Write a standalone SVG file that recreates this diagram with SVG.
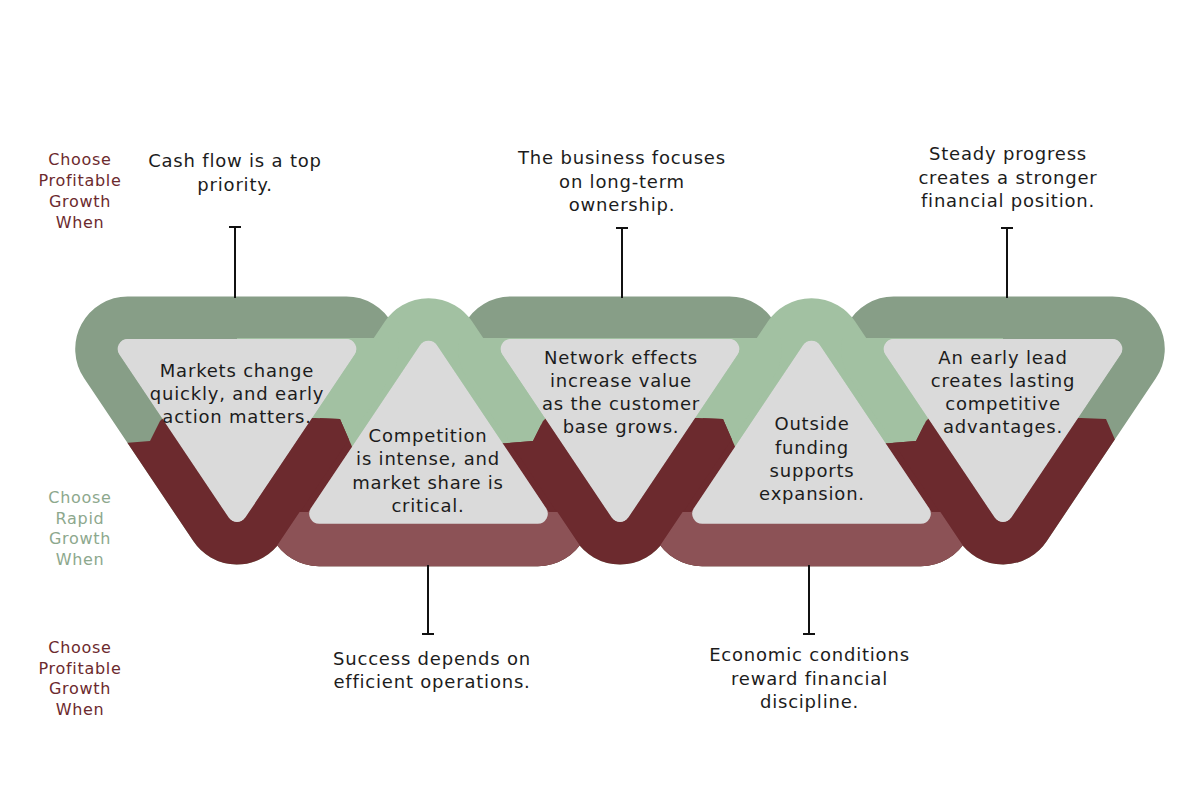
<svg xmlns="http://www.w3.org/2000/svg" width="1200" height="800" viewBox="0 0 1200 800">
<style>
.t{font-family:"DejaVu Sans","Liberation Sans",sans-serif;font-size:18px;fill:#1c1c1c;text-anchor:middle;letter-spacing:0.8px}
.lab{font-family:"DejaVu Sans","Liberation Sans",sans-serif;font-size:16px;text-anchor:middle;letter-spacing:0.7px}
.lr{fill:#6c2a2e}
.lgn{fill:#8da88d}
.conn{stroke:#111;stroke-width:2;fill:none}
</style>
<defs>
<path id="dRing" d="M-109.2 318 L109.2 318 A31 31 0 0 1 135 366.3 L25.8 529.2 A31 31 0 0 1 -25.8 529.2 L-135 366.3 A31 31 0 0 1 -109.2 318 Z" fill="none" stroke-width="43" stroke-linejoin="round"/>
<path id="uRing" d="M25.8 333.5 L135 496.4 A31 31 0 0 1 109.2 544.7 L-109.2 544.7 A31 31 0 0 1 -135 496.4 L-25.8 333.5 A31 31 0 0 1 25.8 333.5 Z" fill="none" stroke-width="43" stroke-linejoin="round"/>
<path id="dGrey" d="M-109.3 339 L109.3 339 A10 10 0 0 1 117.6 354.5 L8.3 517.6 A10 10 0 0 1 -8.3 517.6 L-117.6 354.5 A10 10 0 0 1 -109.3 339 Z" fill="#dadada"/>
<path id="uGrey" d="M8.3 345.1 L117.6 508.2 A10 10 0 0 1 109.3 523.7 L-109.3 523.7 A10 10 0 0 1 -117.6 508.2 L-8.3 345.1 A10 10 0 0 1 8.3 345.1 Z" fill="#dadada"/>
<clipPath id="cDG1"><rect x="0" y="0" width="237" height="800"/><rect x="0" y="0" width="1200" height="339"/></clipPath>
<clipPath id="cDG3"><rect x="0" y="0" width="1200" height="339"/></clipPath>
<clipPath id="cDG5"><rect x="1003" y="0" width="197" height="800"/><rect x="0" y="0" width="1200" height="339"/></clipPath>
<clipPath id="cLG1"><rect x="237" y="338" width="963" height="462"/></clipPath>
<clipPath id="cLG3"><rect x="0" y="338" width="1200" height="462"/></clipPath>
<clipPath id="cLG5"><rect x="0" y="338" width="1003" height="462"/></clipPath>
<clipPath id="cut1"><polygon points="37,446 125,443 150,441 160,421 163,418 315,418 340,419 350,442 357,458 437,458 437,620 37,620"/></clipPath>
<clipPath id="cut3"><polygon points="420,446 508,443 533,441 543,421 546,418 698,418 723,419 733,442 740,458 820,458 820,620 420,620"/></clipPath>
<clipPath id="cut5"><polygon points="803,446 891,443 916,441 926,421 929,418 1081,418 1106,419 1116,442 1123,458 1203,458 1203,620 803,620"/></clipPath>
<clipPath id="cut12"><polygon points="37,446 125,443 150,441 160,421 163,418 315,418 340,419 350,442 357,458 437,458 437,620 37,620"/><polygon points="420,446 508,443 533,441 543,421 546,418 698,418 723,419 733,442 740,458 820,458 820,620 420,620"/></clipPath>
<clipPath id="cut34"><polygon points="420,446 508,443 533,441 543,421 546,418 698,418 723,419 733,442 740,458 820,458 820,620 420,620"/><polygon points="803,446 891,443 916,441 926,421 929,418 1081,418 1106,419 1116,442 1123,458 1203,458 1203,620 803,620"/></clipPath>
<clipPath id="mut2"><polygon points="349.9,450 507.1,450 548.6,512 557.4,512 629.8,620 227.2,620 299.6,512 308.4,512"/></clipPath>
<clipPath id="mut4"><polygon points="732.9,450 890.1,450 931.6,512 940.4,512 1012.8,620 610.2,620 682.6,512 691.4,512"/></clipPath>
<marker id="cap" viewBox="0 0 4 12" refX="2" refY="6" markerWidth="4" markerHeight="12" markerUnits="userSpaceOnUse" orient="auto"><path d="M2 0V12" stroke="#111" stroke-width="2"/></marker>
</defs>
<rect width="1200" height="800" fill="#ffffff"/>
<g id="bands">
<g id="band-darkgreen" stroke="#879e87">
<g clip-path="url(#cDG1)"><use href="#dRing" transform="translate(237 0)"/></g>
<g clip-path="url(#cDG3)"><use href="#dRing" transform="translate(620 0)"/></g>
<g clip-path="url(#cDG5)"><use href="#dRing" transform="translate(1003 0)"/></g>
</g>
<g id="band-lightgreen" stroke="#a2c1a2">
<use href="#uRing" transform="translate(428.5 0)"/>
<use href="#uRing" transform="translate(811.5 0)"/>
<g clip-path="url(#cLG1)"><use href="#dRing" transform="translate(237 0)"/></g>
<g clip-path="url(#cLG3)"><use href="#dRing" transform="translate(620 0)"/></g>
<g clip-path="url(#cLG5)"><use href="#dRing" transform="translate(1003 0)"/></g>
</g>
<g id="band-darkred" stroke="#6c2a2e">
<g clip-path="url(#cut12)"><use href="#uRing" transform="translate(428.5 0)"/></g>
<g clip-path="url(#cut34)"><use href="#uRing" transform="translate(811.5 0)"/></g>
<g clip-path="url(#cut1)"><use href="#dRing" transform="translate(237 0)"/></g>
<g clip-path="url(#cut3)"><use href="#dRing" transform="translate(620 0)"/></g>
<g clip-path="url(#cut5)"><use href="#dRing" transform="translate(1003 0)"/></g>
</g>
<g id="band-mutedred" stroke="#8c5256">
<g clip-path="url(#mut2)"><use href="#uRing" transform="translate(428.5 0)"/></g>
<g clip-path="url(#mut4)"><use href="#uRing" transform="translate(811.5 0)"/></g>
</g>
</g>
<g id="node-1">
<use href="#dGrey" transform="translate(237 0)"/>
<text class="t" x="237" y="376.5">Markets change</text>
<text class="t" x="237" y="399.5">quickly, and early</text>
<text class="t" x="237" y="422.5">action matters.</text>
</g>
<g id="node-2">
<use href="#uGrey" transform="translate(428.5 0)"/>
<text class="t" x="428" y="441.5">Competition</text>
<text class="t" x="428" y="465">is intense, and</text>
<text class="t" x="428" y="488.5">market share is</text>
<text class="t" x="428" y="511.5">critical.</text>
</g>
<g id="node-3">
<use href="#dGrey" transform="translate(620 0)"/>
<text class="t" x="621" y="363.5">Network effects</text>
<text class="t" x="621" y="386.5">increase value</text>
<text class="t" x="621" y="410">as the customer</text>
<text class="t" x="621" y="433">base grows.</text>
</g>
<g id="node-4">
<use href="#uGrey" transform="translate(811.5 0)"/>
<text class="t" x="812" y="430">Outside</text>
<text class="t" x="812" y="453.5">funding</text>
<text class="t" x="812" y="476.5">supports</text>
<text class="t" x="812" y="500">expansion.</text>
</g>
<g id="node-5">
<use href="#dGrey" transform="translate(1003 0)"/>
<text class="t" x="1003" y="363.5">An early lead</text>
<text class="t" x="1003" y="386.5">creates lasting</text>
<text class="t" x="1003" y="410">competitive</text>
<text class="t" x="1003" y="433">advantages.</text>
</g>
<g id="label-top-1">
<text class="t" x="235" y="167">Cash flow is a top</text>
<text class="t" x="235" y="190.5">priority.</text>
</g>
<g id="label-top-3">
<text class="t" x="622" y="164">The business focuses</text>
<text class="t" x="622" y="187.5">on long-term</text>
<text class="t" x="622" y="211">ownership.</text>
</g>
<g id="label-top-5">
<text class="t" x="1008" y="160">Steady progress</text>
<text class="t" x="1008" y="183.5">creates a stronger</text>
<text class="t" x="1008" y="207">financial position.</text>
</g>
<g id="label-bottom-2">
<text class="t" x="432" y="664.5">Success depends on</text>
<text class="t" x="432" y="688">efficient operations.</text>
</g>
<g id="label-bottom-4">
<text class="t" x="809.5" y="661">Economic conditions</text>
<text class="t" x="809.5" y="684.5">reward financial</text>
<text class="t" x="809.5" y="708">discipline.</text>
</g>
<g id="row-label-1" class="lab lr">
<text x="80" y="165">Choose</text>
<text x="80" y="186">Profitable</text>
<text x="80" y="207">Growth</text>
<text x="80" y="228">When</text>
</g>
<g id="row-label-2" class="lab lgn">
<text x="80" y="502.5">Choose</text>
<text x="80" y="523.5">Rapid</text>
<text x="80" y="544">Growth</text>
<text x="80" y="565">When</text>
</g>
<g id="row-label-3" class="lab lr">
<text x="80" y="652.5">Choose</text>
<text x="80" y="673.5">Profitable</text>
<text x="80" y="694">Growth</text>
<text x="80" y="715">When</text>
</g>
<g id="connectors" class="conn">
<path d="M235 227 V298" marker-start="url(#cap)"/>
<path d="M622 228 V298" marker-start="url(#cap)"/>
<path d="M1007 228 V298" marker-start="url(#cap)"/>
<path d="M428 565 V634" marker-end="url(#cap)"/>
<path d="M809 565 V634" marker-end="url(#cap)"/>
</g>
</svg>
